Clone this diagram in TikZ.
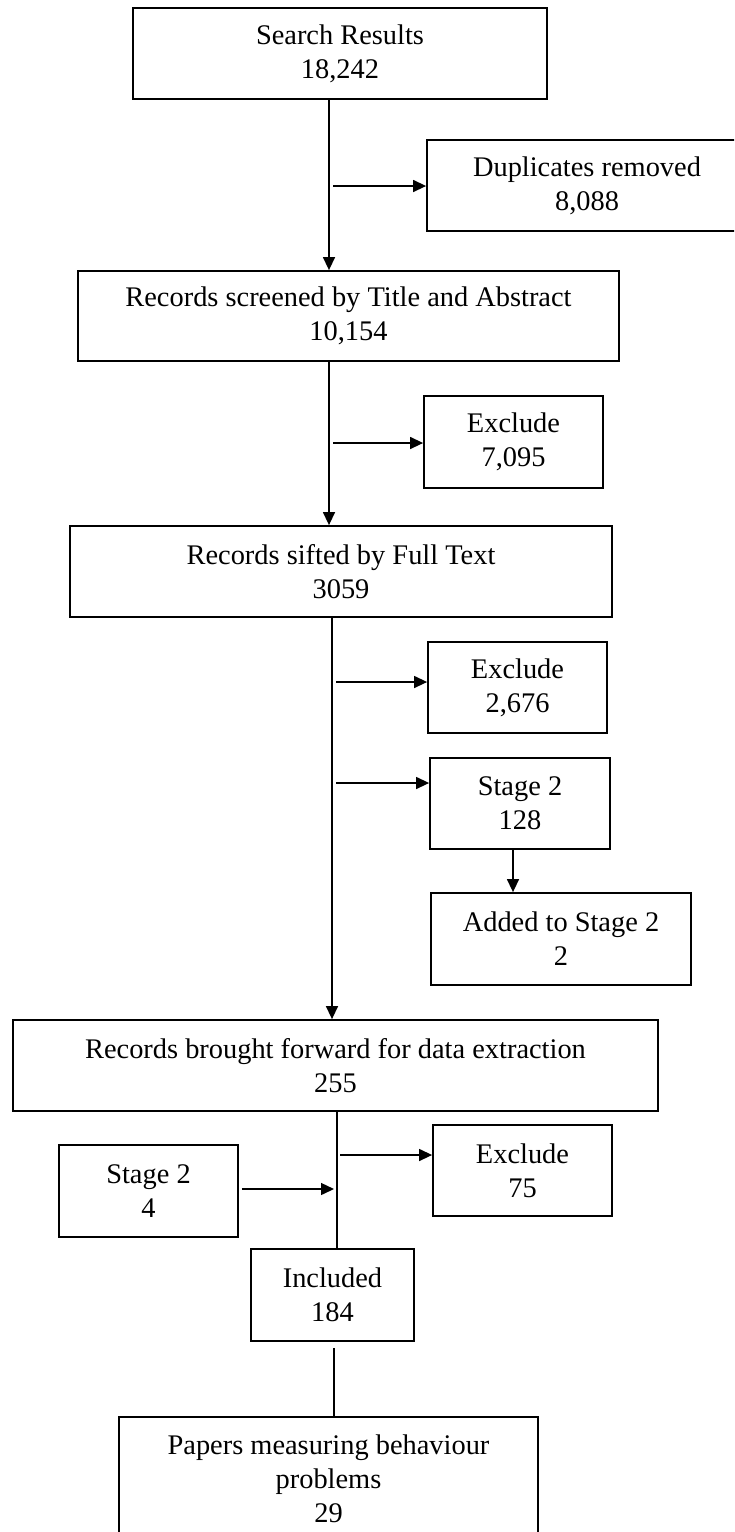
\documentclass[tikz,border=0pt]{standalone}
\usepackage{fontspec}
\setmainfont{Liberation Serif}
\usetikzlibrary{arrows.meta}
\begin{document}
\begin{tikzpicture}[x=0.5pt,y=-0.5pt,
  box/.style={draw, line width=0.9pt, inner sep=0pt, align=center,
              font=\fontsize{14.2}{17}\selectfont},
  conn/.style={line width=0.7pt},
  arr/.style={conn, -{Triangle[length=6.5pt,width=6pt]}}]
\useasboundingbox (0,0) rectangle (734,1532);
\clip (0,0) rectangle (734,1532);

\node[box, minimum width=207pt, minimum height=45.5pt] (s1) at (340,53.5) {Search Results\\18,242};
\node[box, minimum width=160pt, minimum height=45.5pt] (dup) at (587,185.5) {Duplicates removed\\8,088};
\node[box, minimum width=270.5pt, minimum height=45pt] (s3) at (348.5,316) {Records screened by Title and Abstract\\10,154};
\node[box, minimum width=89.5pt, minimum height=46pt] (ex1) at (513.5,442) {Exclude\\7,095};
\node[box, minimum width=271pt, minimum height=45.5pt] (s5) at (341,571.5) {Records sifted by Full Text\\3059};
\node[box, minimum width=89.5pt, minimum height=45.5pt] (ex2) at (517.5,687.5) {Exclude\\2,676};
\node[box, minimum width=90pt, minimum height=45.5pt] (st2a) at (520,803.5) {Stage 2\\128};
\node[box, minimum width=130pt, minimum height=46pt] (add) at (561,939) {Added to Stage 2\\2};
\node[box, minimum width=322.5pt, minimum height=45.5pt] (s9) at (335.5,1065.5) {Records brought forward for data extraction\\255};
\node[box, minimum width=89.5pt, minimum height=46pt] (st2b) at (148.5,1191) {Stage 2\\4};
\node[box, minimum width=89.5pt, minimum height=45.5pt] (ex3) at (522.5,1170.5) {Exclude\\75};
\node[box, minimum width=81.5pt, minimum height=46pt] (inc) at (332.5,1295) {Included\\184};
\node[box, minimum width=209.5pt, minimum height=61.5pt] (pap) at (328.5,1478.5) {Papers measuring behaviour\\problems\\29};

\coordinate (t1) at (329,0);
\coordinate (t2) at (332,0);
\coordinate (t3) at (337,0);
\coordinate (t4) at (334,0);
\coordinate (t5) at (513,0);
\coordinate (b1) at (333,186);
\coordinate (b2) at (333,443);
\coordinate (b3) at (336,682);
\coordinate (b4) at (336,783);
\coordinate (b5) at (340,1155);
\coordinate (j1) at (334,1189);

\draw[arr] (s1.south -| t1) -- (s3.north -| t1);
\draw[arr] (b1) -- (b1 -| dup.west);
\draw[arr] (s3.south -| t1) -- (s5.north -| t1);
\draw[arr] (b2) -- (b2 -| ex1.west);
\draw[arr] (s5.south -| t2) -- (s9.north -| t2);
\draw[arr] (b3) -- (b3 -| ex2.west);
\draw[arr] (b4) -- (b4 -| st2a.west);
\draw[arr] (st2a.south -| t5) -- (add.north -| t5);
\draw[conn] (s9.south -| t3) -- (inc.north -| t3);
\draw[arr] (b5) -- (b5 -| ex3.west);
\draw[arr, shorten <=1.5pt] (st2b.east |- j1) -- (j1);
\draw[conn, shorten <=3pt] (inc.south -| t4) -- (pap.north -| t4);
\end{tikzpicture}
\end{document}
